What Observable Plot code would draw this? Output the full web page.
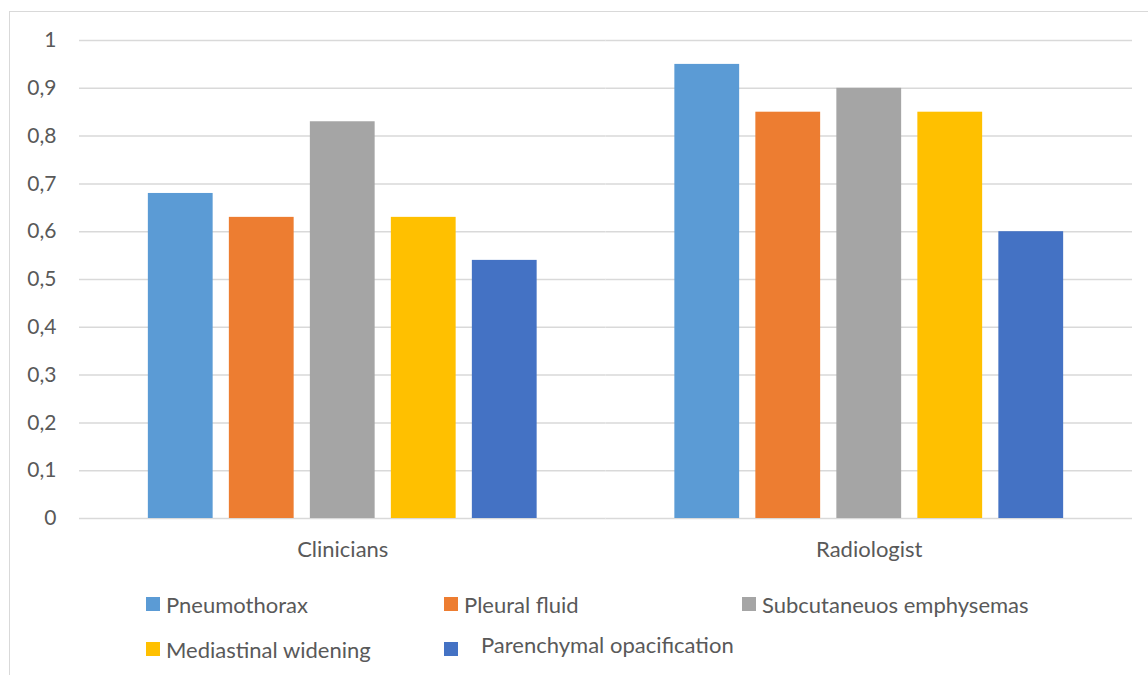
<!DOCTYPE html>
<html>
<head>
<meta charset="utf-8">
<script src="https://cdn.jsdelivr.net/npm/d3@7"></script>
<script src="https://cdn.jsdelivr.net/npm/@observablehq/plot@0.6"></script>
<style>
  html, body { margin: 0; padding: 0; background: #fff; }
  body { width: 1148px; height: 675px; position: relative; overflow: hidden; font-family: Lato, "Open Sans", sans-serif; }
  #frame { position: absolute; left: 9px; top: 11px; width: 1200px; height: 700px; border-top: 1px solid #d9d9d9; border-left: 1px solid #d9d9d9; }
  #chart { position: absolute; left: 0; top: 0; }
  #legend { position: absolute; left: 0; top: 0; width: 1148px; height: 675px; }
  .item { position: absolute; display: flex; align-items: center; color: #595959; font-size: 22px; white-space: nowrap; }
  .sw { width: 14px; height: 14px; display: inline-block; }
</style>
</head>
<body>
<div id="frame"></div>
<div id="chart"></div>
<div id="legend"></div>
<script>
const groups = ["Clinicians", "Radiologist"];
const series = ["Pneumothorax", "Pleural fluid", "Subcutaneuos emphysemas", "Mediastinal widening", "Parenchymal opacification"];
const colors = ["#5B9BD5", "#ED7D31", "#A5A5A5", "#FFC000", "#4472C4"];
const clinicians = [0.68, 0.63, 0.83, 0.63, 0.54];
const radiologist = [0.95, 0.85, 0.90, 0.85, 0.60];
const yTicks = [0, 0.1, 0.2, 0.3, 0.4, 0.5, 0.6, 0.7, 0.8, 0.9, 1];
const yTickLabels = ["0", "0,1", "0,2", "0,3", "0,4", "0,5", "0,6", "0,7", "0,8", "0,9", "1"];

const values = [clinicians, radiologist];
const data = [];
groups.forEach((g, gi) => series.forEach((s, si) => data.push({group: g, series: s, value: values[gi][si]})));

const chart = Plot.plot({
  width: 1148,
  height: 575,
  marginLeft: 79,
  marginRight: 16,
  marginTop: 40,
  marginBottom: 57,
  style: {fontFamily: "Lato, 'Open Sans', sans-serif", fontSize: "21px", color: "#595959", background: "transparent"},
  fx: {domain: groups, padding: 0, round: false, label: null},
  x: {domain: series, axis: null, round: false, paddingInner: 0.2, paddingOuter: 0.85},
  y: {domain: [0, 1], ticks: yTicks, tickFormat: d => yTickLabels[yTicks.indexOf(d)], tickSize: 0, tickPadding: 23, label: null},
  color: {domain: series, range: colors},
  marks: [
    Plot.gridY(yTicks, {stroke: "#d9d9d9", strokeOpacity: 1, strokeWidth: 1.5}),
    Plot.barY(data, {fx: "group", x: "series", y: "value", fill: "series"}),
    Plot.axisFx({anchor: "bottom", tickSize: 0, tickPadding: 23, fontSize: 22, label: null})
  ]
});
document.getElementById("chart").appendChild(chart);

const legend = document.getElementById("legend");
const cols = [146, 444, 742];
const rowTops = [597, 642];
series.forEach((s, i) => {
  const col = i % 3, row = Math.floor(i / 3);
  const item = document.createElement("div");
  item.className = "item";
  item.style.left = cols[col] + "px";
  item.style.top = (rowTops[row] - 6) + "px";
  item.style.height = "26px";
  const sw = document.createElement("span");
  sw.className = "sw";
  sw.style.background = colors[i];
  const label = document.createElement("span");
  label.textContent = s;
  label.style.marginLeft = (i === 4 ? 23 : 6) + "px";
  if (i === 4) label.style.transform = "translateY(-5px)";
  item.appendChild(sw);
  item.appendChild(label);
  legend.appendChild(item);
});
</script>
</body>
</html>
